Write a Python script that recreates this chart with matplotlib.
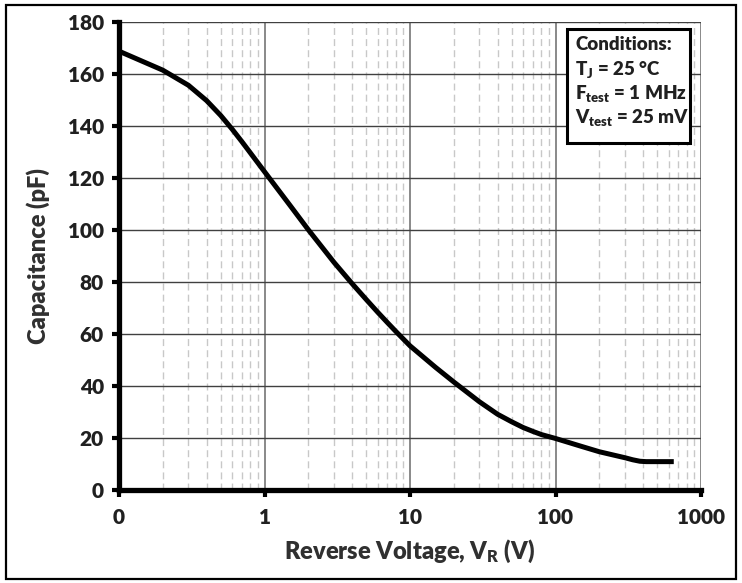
import matplotlib
matplotlib.use("Agg")
import matplotlib.pyplot as plt
from matplotlib.patches import Rectangle
from matplotlib.ticker import FixedLocator, FixedFormatter, LogLocator, NullFormatter

plt.rcParams['font.family'] = ['Lato', 'DejaVu Sans']
plt.rcParams['font.weight'] = 'heavy'
plt.rcParams['axes.labelweight'] = 'heavy'
plt.rcParams['mathtext.fontset'] = 'custom'
plt.rcParams['mathtext.rm'] = 'Lato:heavy'
plt.rcParams['mathtext.bf'] = 'Lato:heavy'
plt.rcParams['mathtext.it'] = 'Lato:heavy'

# Junction capacitance vs reverse bias
reverse_voltage = [0.1, 0.2, 0.3, 0.4, 0.5, 0.6, 0.7, 0.8, 0.9, 1, 1.5, 2, 3, 4, 5, 6, 7, 8,
                   10, 15, 20, 30, 40, 50, 60, 70, 80, 100, 150, 200, 300, 340, 380, 420, 650]
capacitance = [168.6, 161.3, 155.5, 149.6, 143.9, 138.6, 133.8, 129.5, 125.7, 122.3,
               109.3, 100.0, 87.5, 79.3, 73.2, 68.3, 64.3, 60.9,
               55.4, 47.1, 41.5, 33.9, 29.1, 26.2, 24.0, 22.5, 21.3, 19.8,
               16.8, 14.7, 12.4, 11.6, 11.05, 10.9, 10.9]

x_ticks = [0.1, 1, 10, 100, 1000]
x_tick_labels = ['0', '1', '10', '100', '1000']
y_ticks = list(range(0, 181, 20))

conditions = ['Conditions:', r'T$_{\mathbf{J}}$ = 25 °C',
              r'F$_{\mathbf{test}}$ = 1 MHz', r'V$_{\mathbf{test}}$ = 25 mV']

W, H = 742, 583
fig = plt.figure(figsize=(W / 100, H / 100), dpi=100)
ax = fig.add_axes([119 / W, 1 - 490 / H, (701 - 119) / W, (490 - 21.5) / H])

ax.set_xscale('log')
ax.set_xlim(0.1, 1000)
ax.set_ylim(0, 180)

ax.xaxis.set_major_locator(FixedLocator(x_ticks))
ax.xaxis.set_major_formatter(FixedFormatter(x_tick_labels))
ax.xaxis.set_minor_locator(LogLocator(base=10, subs=range(2, 10)))
ax.xaxis.set_minor_formatter(NullFormatter())
ax.set_yticks(y_ticks)

# grid
ax.grid(True, axis='y', which='major', color='#404040', linewidth=1.0)
ax.grid(True, axis='x', which='major', color='#808080', linewidth=1.3)
ax.grid(True, axis='x', which='minor', color='#c8c8c8', linewidth=1.0,
        linestyle=(0, (5, 3)))
ax.set_axisbelow(True)

for side in ('top', 'right'):
    ax.spines[side].set_visible(False)
for side in ('left', 'bottom'):
    ax.spines[side].set_linewidth(3.8)
    ax.spines[side].set_color('black')

ax.tick_params(axis='both', which='major', direction='out', length=5, width=3,
               color='black', labelsize=15, labelcolor='#202020', pad=6)
ax.tick_params(axis='x', which='minor', length=0)
ax.tick_params(axis='x', which='major', pad=8)

ax.plot(reverse_voltage, capacitance, color='black', linewidth=3.6,
        solid_capstyle='butt', solid_joinstyle='round', zorder=5, clip_on=False)

ax.set_ylabel('Capacitance (pF)', fontsize=17, fontweight='heavy', labelpad=13,
              color='#303030')
ax.set_xlabel(r'Reverse Voltage, V$_{\mathbf{R}}$ (V)', fontsize=17, fontweight='heavy',
              labelpad=8, color='#303030')

# conditions box
bx0, by0, bx1, by1 = 567, 29, 690, 143
fig.patches.append(Rectangle((bx0 / W, 1 - by1 / H), (bx1 - bx0) / W, (by1 - by0) / H,
                             transform=fig.transFigure, facecolor='white',
                             edgecolor='black', linewidth=2.2, zorder=10))
line_y = [45, 69, 94, 118]
for txt, yy in zip(conditions, line_y):
    fig.text(575 / W, 1 - yy / H, txt, fontsize=13.5, fontweight='heavy',
             ha='left', va='center', color='#202020', zorder=11)

# outer frame
fig.patches.append(Rectangle((6 / W, 4 / H), (W - 12) / W, (H - 9) / H,
                             transform=fig.transFigure, facecolor='none',
                             edgecolor='black', linewidth=1.6, zorder=12))

fig.savefig('out.png', dpi=100)
